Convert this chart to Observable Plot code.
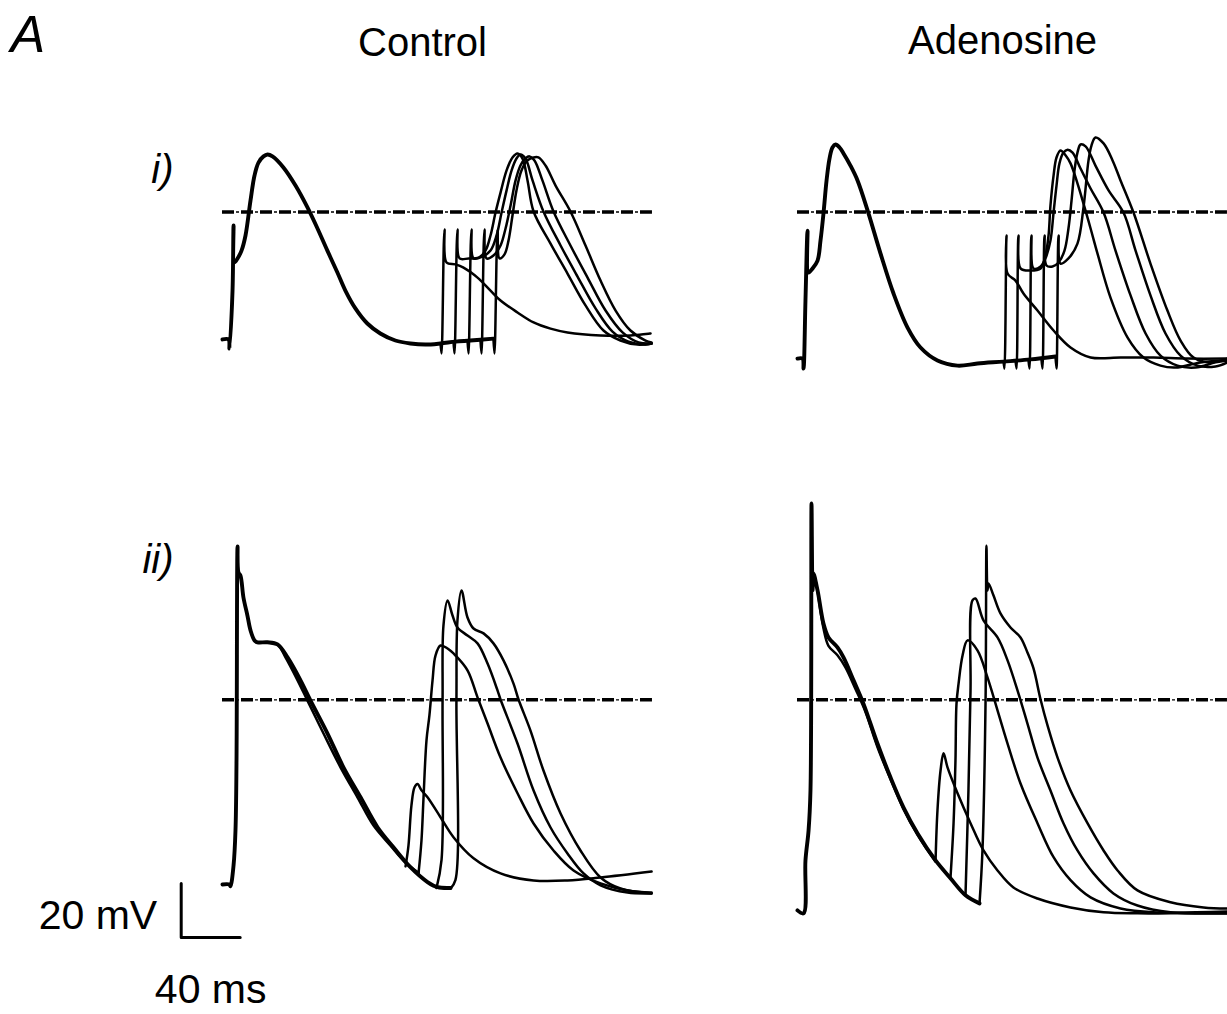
<!DOCTYPE html>
<html>
<head>
<meta charset="utf-8">
<script src="https://cdn.jsdelivr.net/npm/d3@7"></script>
<script src="https://cdn.jsdelivr.net/npm/@observablehq/plot@0.6"></script>
<style>
  html, body { margin: 0; padding: 0; background: #fff; }
  svg { display: block; }
</style>
</head>
<body>
<div id="chart"></div>
<script>
// ---------- categories & labels ----------
const columns = ["Control", "Adenosine"];
const rows = ["i", "ii"];
const rowLabels = ["i)", "ii)"];
const panelLetter = "A";
const scaleBarMs = 40;
const scaleBarMv = 20;
const scaleBarLabels = ["20 mV", "40 ms"];
const scaleBarOrigin = [-28, -88];      // [ms, mV] corner of the scale bar
const referenceMv = 0;                   // dashed reference level
const timeSpanMs = 291.5;
const voltageRangeMv = [-90, 76];

// ---------- traces: [time ms, membrane potential mV] ----------
// Control, row i
const controlI_S1 = [[0,-47.2],[4.1,-47.2],[4.7,-50.6],[6.8,-29.1],[7.5,-5.0],[8.1,-18.7],[10.2,-17.2],[12.9,-14.3],[15.6,-8.7],[19.0,4.3],[21.7,13.5],[24.4,18.3],[27.8,20.6],[30.5,21.3],[33.9,20.6],[41.3,16.5],[49.5,9.8],[57.6,1.7],[64.4,-6.1],[71.1,-14.3],[77.9,-22.4],[83.3,-29.1],[90.1,-35.7],[98.2,-41.3],[107.0,-45.0],[117.2,-47.6],[127.4,-48.7],[137.5,-49.1],[147.7,-48.7],[157.9,-48.0],[168.0,-47.6],[183.7,-46.9]];
const controlI_S2a = [[147.8,-48.7],[148.5,-52.4],[150.5,-6.5],[151.9,-18.7],[158.0,-19.4],[163.4,-20.6],[172.9,-24.3],[181.7,-29.1],[188.5,-32.8],[200.0,-37.2],[210.9,-40.9],[222.4,-43.2],[233.9,-44.6],[256.3,-45.7],[276.6,-45.7],[290.2,-45.0]];
const controlI_S2b = [[156.6,-48.0],[157.3,-52.4],[159.3,-6.5],[160.7,-17.2],[166.8,-17.2],[173.6,-16.9],[178.3,-14.3],[181.7,-8.7],[185.1,-0.2],[188.5,7.2],[192.6,15.4],[196.6,20.2],[200.0,21.7],[203.4,19.8],[206.8,11.7],[210.9,0.2],[222.4,-11.7],[233.9,-22.8],[246.1,-34.6],[258.3,-43.9],[269.8,-47.6],[281.4,-49.1],[290.9,-48.7]];
const controlI_S2c = [[166.1,-47.6],[166.8,-52.4],[168.8,-6.5],[170.2,-17.2],[176.3,-16.5],[181.7,-14.3],[185.8,-8.7],[189.2,-0.2],[192.6,8.0],[196.0,15.4],[199.3,19.8],[202.0,21.3],[205.4,19.8],[210.2,11.7],[217.6,0.2],[229.2,-12.4],[240.7,-23.9],[252.9,-35.7],[264.4,-44.3],[275.3,-48.0],[286.8,-49.1],[290.9,-48.7]];
const controlI_S2d = [[174.9,-47.6],[175.6,-52.4],[177.6,-6.5],[179.0,-17.2],[183.7,-16.1],[188.5,-12.4],[191.9,-6.1],[195.3,2.4],[198.7,11.7],[202.0,17.2],[205.4,19.8],[208.1,20.6],[211.5,19.1],[216.9,11.7],[224.4,0.2],[235.9,-12.4],[247.5,-24.3],[259.7,-36.5],[271.2,-44.6],[282.1,-48.3],[290.9,-48.7]];
const controlI_S2e = [[183.7,-47.2],[184.4,-52.4],[186.5,-6.5],[187.8,-17.2],[191.2,-15.7],[193.9,-10.6],[196.6,-1.3],[199.3,8.0],[202.7,15.4],[206.8,19.1],[210.9,20.2],[214.2,20.2],[219.0,17.2],[225.8,9.8],[235.9,0.2],[246.1,-12.4],[256.3,-25.4],[266.5,-36.5],[276.6,-43.9],[286.8,-47.6],[290.9,-48.3]];

// Adenosine, row i
const adenoI_S1 = [[0,-54.3],[3.4,-54.3],[4.1,-58.0],[5.4,-32.8],[6.8,-6.9],[7.5,-22.4],[10.2,-20.9],[13.6,-18.0],[15.6,-10.6],[17.6,-0.6],[19.7,11.7],[21.7,19.8],[23.7,23.9],[25.8,25.0],[28.5,23.9],[31.2,21.7],[35.9,17.2],[40.7,11.7],[47.5,0.6],[56.3,-15.4],[65.1,-30.2],[74.6,-42.8],[83.4,-50.2],[94.9,-55.0],[108.5,-56.9],[122.0,-56.1],[139.7,-55.4],[158.0,-54.6],[174.9,-53.5]];
const adenoI_S2a = [[139.7,-55.4],[140.3,-58.0],[141.7,-8.7],[142.4,-22.8],[147.8,-25.4],[153.2,-30.2],[162.7,-36.5],[173.6,-43.9],[185.1,-50.2],[198.7,-53.9],[219.0,-53.9],[241.4,-53.9],[264.4,-54.3],[291.5,-54.3]];
const adenoI_S2b = [[147.8,-55.0],[148.5,-58.0],[149.8,-8.7],[151.2,-20.9],[158.0,-21.7],[164.8,-20.9],[168.1,-16.1],[170.2,-8.7],[171.5,2.4],[173.6,13.5],[175.6,20.2],[178.3,22.8],[181.7,21.0],[185.1,18.0],[189.8,10.6],[193.9,3.1],[198.7,-6.1],[203.4,-15.4],[212.2,-31.7],[223.8,-46.5],[234.6,-53.9],[246.1,-56.9],[256.3,-57.6],[273.2,-55.7],[291.5,-55.0]];
const adenoI_S2c = [[156.6,-55.0],[157.3,-58.0],[158.6,-8.7],[160.0,-20.9],[164.8,-20.2],[168.1,-17.2],[171.5,-10.6],[173.6,-0.2],[175.6,9.8],[177.6,18.0],[180.3,22.0],[183.1,23.1],[186.5,22.0],[191.9,16.1],[198.7,8.7],[207.5,-0.2],[215.6,-14.3],[225.8,-30.9],[236.0,-45.0],[246.1,-53.2],[257.6,-56.9],[269.8,-57.6],[283.4,-55.7],[291.5,-55.0]];
const adenoI_S2d = [[165.4,-54.6],[166.1,-58.0],[167.5,-8.7],[168.8,-19.8],[172.9,-20.2],[177.0,-18.7],[181.0,-14.3],[183.7,-6.1],[185.8,4.3],[187.8,15.4],[189.8,22.0],[191.9,25.0],[195.3,24.3],[202.0,17.2],[210.9,8.0],[221.0,-0.2],[229.2,-14.3],[239.3,-30.9],[249.5,-45.0],[259.7,-53.2],[271.2,-56.9],[283.4,-57.2],[291.5,-55.7]];
const adenoI_S2e = [[174.9,-53.5],[175.6,-58.0],[177.0,-8.7],[178.3,-19.1],[183.7,-17.2],[189.8,-11.7],[193.9,1.7],[197.3,19.1],[199.3,24.6],[202.0,27.6],[207.5,25.4],[213.6,19.1],[219.0,11.7],[227.8,-0.2],[239.3,-19.1],[250.8,-36.5],[259.7,-47.6],[268.5,-53.9],[280.0,-55.7],[291.5,-54.3]];

// Control, row ii
const controlII_S1 = [[0,-68.4],[4.7,-68.4],[5.4,-69.1],[7.5,-61.3],[8.8,-48.4],[9.5,-22.4],[10.2,56.8],[10.8,47.2],[12.2,46.0],[14.2,37.9],[16.9,31.2],[19.0,25.7],[21.7,22.0],[23.7,21.3],[30.5,21.3],[37.3,20.5],[44.1,15.7],[52.9,7.2],[59.7,-0.3],[71.2,-12.5],[82.0,-25.0],[93.6,-36.1],[105.1,-47.2],[115.9,-54.6],[127.4,-62.0],[139.0,-67.5],[145.8,-69.4],[154.6,-69.7]];
const controlII_S1b = [[30.5,21.3],[37.3,20.5],[42.7,15.7],[50.9,7.2],[57.6,-0.3],[68.5,-12.5],[80.0,-25.0],[91.5,-36.1],[102.4,-46.6],[113.9,-54.0],[124.1,-60.3],[132.9,-64.0]];
const controlII_S2a = [[124.1,-61.7],[126.1,-53.9],[128.1,-39.1],[130.2,-32.4],[132.2,-31.2],[134.9,-33.5],[139.0,-36.1],[147.8,-43.5],[156.6,-50.9],[170.2,-58.7],[188.5,-64.3],[210.9,-66.9],[233.9,-66.9],[256.3,-65.8],[290.9,-63.6]];
const controlII_S2b = [[132.9,-64.3],[134.9,-52.1],[136.3,-36.1],[138.3,-15.0],[140.3,-5.7],[142.4,7.2],[144.4,16.4],[147.8,20.1],[152.6,19.0],[158.0,16.4],[166.1,10.9],[172.9,0.9],[179.7,-8.8],[188.5,-21.4],[200.0,-34.6],[210.9,-45.8],[224.4,-55.8],[238.0,-63.2],[256.3,-68.0],[274.6,-70.6],[290.9,-71.4]];
const controlII_S2c = [[145.1,-69.7],[148.5,-59.3],[149.2,-0.3],[149.8,27.5],[152.6,36.8],[155.9,31.3],[159.3,26.8],[166.1,23.8],[172.9,20.9],[179.7,13.4],[186.5,3.4],[188.5,0.1],[200.0,-16.2],[210.9,-33.6],[222.4,-47.3],[233.9,-56.9],[244.8,-64.3],[256.3,-68.7],[274.6,-71.4],[290.9,-71.7]];
const controlII_S2d = [[154.6,-69.9],[157.9,-66.8],[158.6,-0.3],[159.3,29.4],[162.0,40.5],[166.1,30.5],[170.2,26.4],[177.0,24.6],[183.7,20.9],[190.5,14.6],[197.3,6.0],[200.7,0.1],[208.8,-11.4],[217.6,-26.2],[229.2,-42.1],[242.7,-55.8],[256.3,-65.8],[269.8,-69.9],[290.9,-71.7]];

// Adenosine, row ii
const adenoII_S1 = [[0,-78.0],[4.1,-79.1],[5.4,-59.5],[7.5,-48.4],[8.8,-33.6],[9.5,72.7],[10.2,40.5],[10.8,46.8],[13.6,40.5],[17.6,28.3],[21.0,23.1],[27.1,19.4],[31.2,15.7],[38.0,7.2],[44.7,-1.4],[54.2,-16.2],[63.1,-28.8],[71.9,-39.9],[81.4,-49.5],[93.6,-59.5],[103.7,-66.1],[113.9,-72.4],[123.4,-75.4]];
const adenoII_S1b = [[13.6,40.5],[17.6,26.5],[21.0,20.0],[27.1,16.5],[32.5,12.0],[39.3,4.0],[46.1,-4.5],[54.2,-17.5],[63.1,-29.5],[71.9,-40.5],[81.4,-50.0],[93.6,-60.0]];
const adenoII_S2a = [[93.6,-59.5],[94.9,-40.9],[97.0,-26.1],[99.0,-19.8],[101.7,-25.0],[108.5,-34.6],[117.3,-45.7],[126.1,-55.8],[135.6,-63.2],[146.4,-69.5],[162.7,-73.6],[185.1,-76.9],[207.5,-78.7],[230.5,-79.1],[252.9,-79.1],[291.5,-79.1]];
const adenoII_S2b = [[103.7,-66.1],[105.8,-45.7],[107.1,-22.4],[107.8,-1.4],[109.2,6.0],[111.9,16.4],[115.3,22.0],[122.0,18.3],[128.8,8.3],[135.6,-3.9],[142.4,-16.2],[151.2,-31.0],[162.7,-45.7],[173.6,-58.3],[185.1,-66.8],[198.7,-73.2],[219.0,-77.3],[241.4,-78.7],[291.5,-78.4]];
const adenoII_S2c = [[113.9,-72.4],[115.9,-33.5],[117.3,3.4],[118.6,36.8],[120.7,37.5],[126.1,29.4],[135.6,23.1],[142.4,14.6],[149.2,3.4],[155.9,-8.8],[162.7,-21.4],[171.5,-33.6],[180.3,-45.7],[189.8,-55.8],[200.7,-64.3],[214.2,-71.7],[230.5,-76.2],[252.9,-78.7],[291.5,-79.1]];
const adenoII_S2d = [[123.4,-75.4],[125.4,-55.8],[127.5,-0.3],[128.1,57.1],[128.8,40.5],[129.5,43.1],[132.9,38.6],[137.6,32.0],[144.4,26.8],[151.2,23.1],[155.9,17.5],[160.0,11.6],[164.8,0.1],[169.5,-9.5],[176.3,-21.4],[185.1,-33.6],[196.6,-45.7],[207.5,-55.8],[217.0,-63.2],[230.5,-70.6],[252.9,-75.0],[275.3,-76.9],[291.5,-77.3]];

// ---------- assemble ----------
const traceList = [
  ["Control","i","S1",controlI_S1],["Control","i","S2",controlI_S2a],["Control","i","S2",controlI_S2b],["Control","i","S2",controlI_S2c],["Control","i","S2",controlI_S2d],["Control","i","S2",controlI_S2e],
  ["Adenosine","i","S1",adenoI_S1],["Adenosine","i","S2",adenoI_S2a],["Adenosine","i","S2",adenoI_S2b],["Adenosine","i","S2",adenoI_S2c],["Adenosine","i","S2",adenoI_S2d],["Adenosine","i","S2",adenoI_S2e],
  ["Control","ii","S1",controlII_S1],["Control","ii","S2",controlII_S1b],["Control","ii","S2",controlII_S2a],["Control","ii","S2",controlII_S2b],["Control","ii","S2",controlII_S2c],["Control","ii","S2",controlII_S2d],
  ["Adenosine","ii","S1",adenoII_S1],["Adenosine","ii","S2",adenoII_S1b],["Adenosine","ii","S2",adenoII_S2a],["Adenosine","ii","S2",adenoII_S2b],["Adenosine","ii","S2",adenoII_S2c],["Adenosine","ii","S2",adenoII_S2d]
];
const samples = traceList.flatMap(([col, row, kind, pts], id) =>
  pts.map(([t, v]) => ({col, row, kind, id, t, v})));

// ---------- layout (pixels) ----------
const W = 1227, H = 1014;
const pxPerMs = 1.475, pxPerMv = 2.7;
const marginLeft = 222, colStep = 575;
const refY = 211.5, rowStep = 487.8;
const colWidth = timeSpanMs * pxPerMs;
const rowHeight = (voltageRangeMv[1] - voltageRangeMv[0]) * pxPerMv;
const marginTop = refY - (voltageRangeMv[1] - referenceMv) * pxPerMv;
const marginRight = W - (marginLeft + colStep + colWidth);
const marginBottom = H - (marginTop + rowStep + rowHeight);
const font = "'Liberation Sans', Arial, Helvetica, sans-serif";

const chart = Plot.plot({
  width: W, height: H,
  marginLeft, marginRight, marginTop, marginBottom,
  facet: {marginTop: 0, marginRight: 0, marginBottom: 0, marginLeft: 0},
  style: {fontFamily: font, background: "#fff", color: "#000", overflow: "visible"},
  x: {domain: [0, timeSpanMs], axis: null},
  y: {domain: voltageRangeMv, axis: null},
  fx: {domain: columns, axis: null, paddingInner: (colStep - colWidth) / colStep, paddingOuter: 0, round: false},
  fy: {domain: rows, axis: null, paddingInner: (rowStep - rowHeight) / rowStep, paddingOuter: 0, round: false},
  marks: [
    // dashed reference line (thick dashes with a small dot between)
    Plot.ruleY([referenceMv], {stroke: "#000", strokeWidth: 1.3, strokeDasharray: "3,16", strokeDashoffset: -14}),
    Plot.ruleY([referenceMv], {stroke: "#000", strokeWidth: 3.4, strokeDasharray: "12,7"}),
    // traces
    Plot.line(samples.filter(d => d.kind === "S2"), {
      x: "t", y: "v", z: "id", fx: "col", fy: "row",
      curve: "catmull-rom", stroke: "#000", strokeWidth: 2.5, strokeLinejoin: "round"
    }),
    Plot.line(samples.filter(d => d.kind === "S1"), {
      x: "t", y: "v", z: "id", fx: "col", fy: "row",
      curve: "catmull-rom", stroke: "#000", strokeWidth: 3.9, strokeLinejoin: "round"
    }),
    // scale bar
    Plot.line([
      [scaleBarOrigin[0], scaleBarOrigin[1] + scaleBarMv],
      [scaleBarOrigin[0], scaleBarOrigin[1]],
      [scaleBarOrigin[0] + scaleBarMs, scaleBarOrigin[1]]
    ], {x: d => d[0], y: d => d[1], fx: () => "Control", fy: () => "ii", stroke: "#000", strokeWidth: 3}),
    Plot.text([scaleBarLabels[0]], {
      x: () => scaleBarOrigin[0], y: () => scaleBarOrigin[1] + scaleBarMv / 2,
      fx: () => "Control", fy: () => "ii",
      textAnchor: "end", lineAnchor: "middle", dx: -24, dy: 5, fontSize: 41, fill: "#000"
    }),
    Plot.text([scaleBarLabels[1]], {
      x: () => scaleBarOrigin[0] + scaleBarMs / 2, y: () => scaleBarOrigin[1],
      fx: () => "Control", fy: () => "ii",
      textAnchor: "middle", lineAnchor: "bottom", dy: 66, fontSize: 41, fill: "#000"
    }),
    // column titles
    Plot.text([columns[0]], {fx: d => d, fy: () => rows[0], frameAnchor: "top", lineAnchor: "bottom", dx: -15, dy: 55 - marginTop, fontSize: 40, fill: "#000"}),
    Plot.text([columns[1]], {fx: d => d, fy: () => rows[0], frameAnchor: "top", lineAnchor: "bottom", dx: -10, dy: 53 - marginTop, fontSize: 40, fill: "#000"}),
    // row labels
    Plot.text([rowLabels[0]], {fx: () => columns[0], fy: () => rows[0], frameAnchor: "top-left", textAnchor: "end", lineAnchor: "bottom", dx: 173 - marginLeft, dy: 182 - marginTop, fontSize: 40, fontStyle: "italic", fill: "#000"}),
    Plot.text([rowLabels[1]], {fx: () => columns[0], fy: () => rows[1], frameAnchor: "top-left", textAnchor: "end", lineAnchor: "bottom", dx: 173 - marginLeft, dy: 572 - (marginTop + rowStep), fontSize: 40, fontStyle: "italic", fill: "#000"}),
    // panel letter
    Plot.text([panelLetter], {fx: () => columns[0], fy: () => rows[0], frameAnchor: "top-left", textAnchor: "start", lineAnchor: "bottom", dx: 10 - marginLeft, dy: 51 - marginTop, fontSize: 52, fontStyle: "italic", fill: "#000"})
  ]
});
document.getElementById("chart").appendChild(chart);
</script>
</body>
</html>
